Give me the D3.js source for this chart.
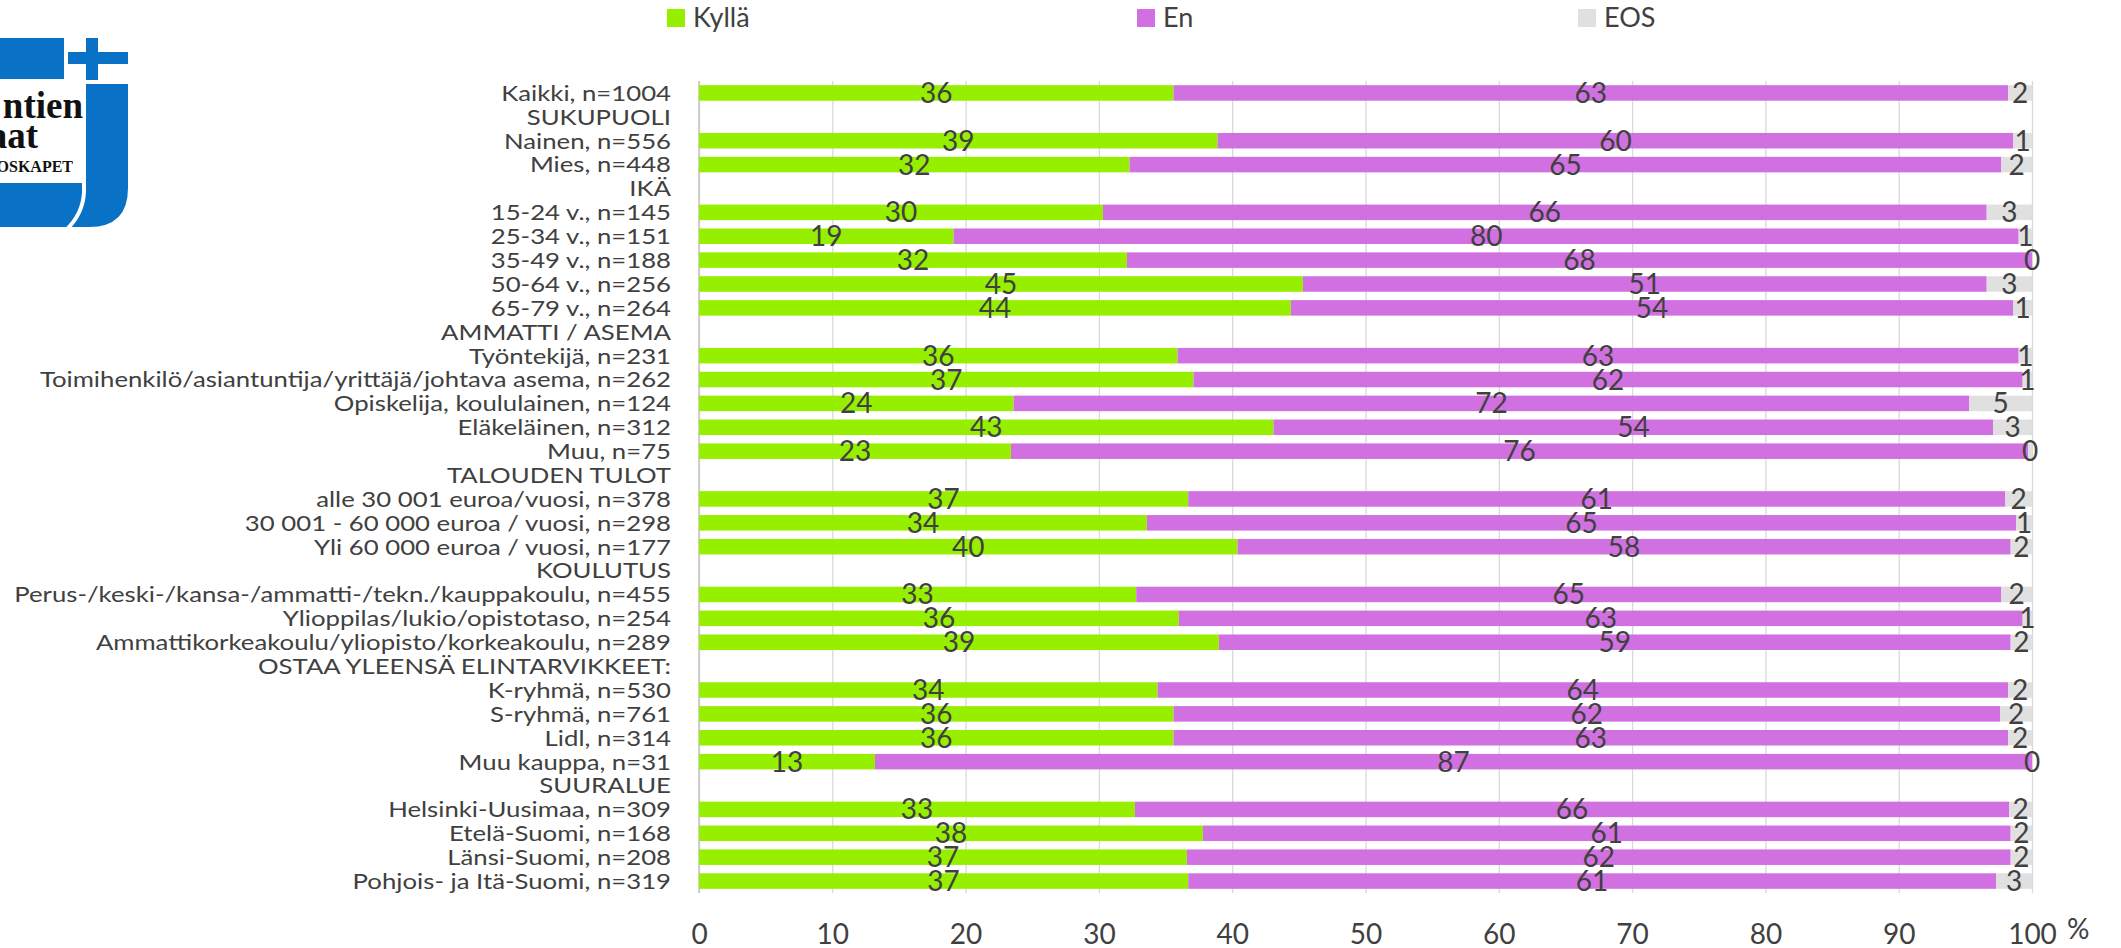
<!DOCTYPE html>
<html>
<head>
<meta charset="utf-8">
<script src="https://cdn.jsdelivr.net/npm/d3@7"></script>
<style>
  html, body { margin: 0; padding: 0; background: #ffffff; }
  svg { display: block; }
  text { font-family: Lato, "Open Sans", sans-serif; fill: #404040; }
</style>
</head>
<body>
<svg id="chart" width="2121" height="948"></svg>
<script>
// Row labels (group headings have no bars)
const categories = [
  "Kaikki, n=1004",
  "SUKUPUOLI",
  "Nainen, n=556",
  "Mies, n=448",
  "IKÄ",
  "15-24 v., n=145",
  "25-34 v., n=151",
  "35-49 v., n=188",
  "50-64 v., n=256",
  "65-79 v., n=264",
  "AMMATTI / ASEMA",
  "Työntekijä, n=231",
  "Toimihenkilö/asiantuntija/yrittäjä/johtava asema, n=262",
  "Opiskelija, koululainen, n=124",
  "Eläkeläinen, n=312",
  "Muu, n=75",
  "TALOUDEN TULOT",
  "alle 30 001 euroa/vuosi, n=378",
  "30 001 - 60 000 euroa / vuosi, n=298",
  "Yli 60 000 euroa / vuosi, n=177",
  "KOULUTUS",
  "Perus-/keski-/kansa-/ammatti-/tekn./kauppakoulu, n=455",
  "Ylioppilas/lukio/opistotaso, n=254",
  "Ammattikorkeakoulu/yliopisto/korkeakoulu, n=289",
  "OSTAA YLEENSÄ ELINTARVIKKEET:",
  "K-ryhmä, n=530",
  "S-ryhmä, n=761",
  "Lidl, n=314",
  "Muu kauppa, n=31",
  "SUURALUE",
  "Helsinki-Uusimaa, n=309",
  "Etelä-Suomi, n=168",
  "Länsi-Suomi, n=208",
  "Pohjois- ja Itä-Suomi, n=319"
];

// Shares in percent; null marks a heading row
const kylla = [35.6, null, 38.9, 32.3, null, 30.3, 19.1, 32.1, 45.3, 44.4, null,
  35.9, 37.1, 23.6, 43.1, 23.4, null, 36.7, 33.6, 40.4, null, 32.8, 36.0, 39.0, null,
  34.4, 35.6, 35.6, 13.2, null, 32.7, 37.8, 36.6, 36.7];
const en = [62.6, null, 59.7, 65.4, null, 66.3, 79.9, 67.9, 51.3, 54.2, null,
  63.1, 62.2, 71.7, 54.0, 76.3, null, 61.3, 65.2, 58.0, null, 64.9, 63.3, 59.4, null,
  63.8, 62.0, 62.6, 86.8, null, 65.6, 60.6, 61.8, 60.6];
const eos = [1.8, null, 1.4, 2.3, null, 3.4, 1.0, 0.0, 3.4, 1.4, null,
  1.0, 0.7, 4.7, 2.9, 0.3, null, 2.0, 1.2, 1.6, null, 2.3, 0.7, 1.6, null,
  1.8, 2.4, 1.8, 0.0, null, 1.7, 1.6, 1.6, 2.7];

const seriesNames = ["Kyllä", "En", "EOS"];
const seriesColors = ["#97ef00", "#d170e1", "#e0e0e0"];
const xTicks = [0, 10, 20, 30, 40, 50, 60, 70, 80, 90, 100];
const xUnit = "%";

const svg = d3.select("#chart");
const W = 2121, H = 948;
const plot = { left: 699, right: 2032, top: 81, bottom: 893 };

const x = d3.scaleLinear().domain([0, 100]).range([plot.left, plot.right]);
const y = d3.scaleBand().domain(categories).range([plot.top, plot.bottom]).paddingInner(0.35).paddingOuter(0.175);

// Logo in the top-left corner (clipped by the page edge)
const logo = svg.append("g").attr("class", "logo");
const blue = "#0a72c6";
logo.append("rect").attr("x", -4).attr("y", 38).attr("width", 68).attr("height", 41).attr("fill", blue);
logo.append("rect").attr("x", 68).attr("y", 52).attr("width", 60).attr("height", 12).attr("fill", blue);
logo.append("rect").attr("x", 86).attr("y", 38).attr("width", 12).attr("height", 42).attr("fill", blue);
logo.append("path").attr("d", "M86,84 H128 V188 Q128,227 89,227 H-4 V183 H86 Z").attr("fill", blue);
logo.append("path").attr("d", "M84,183 V192 Q83,214 66,230").attr("fill", "none").attr("stroke", "#ffffff").attr("stroke-width", 4);
logo.append("text").attr("x", 83).attr("y", 118).attr("text-anchor", "end")
  .style("font-family", "'Liberation Serif', 'DejaVu Serif', serif").style("font-weight", "bold")
  .style("font-size", "37px").style("fill", "#111").text("ntien");
logo.append("text").attr("x", 38).attr("y", 148).attr("text-anchor", "end")
  .style("font-family", "'Liberation Serif', 'DejaVu Serif', serif").style("font-weight", "bold")
  .style("font-size", "37px").style("fill", "#111").text("aat");
logo.append("text").attr("x", 73).attr("y", 172).attr("text-anchor", "end")
  .style("font-family", "'Liberation Serif', 'DejaVu Serif', serif").style("font-weight", "bold")
  .style("font-size", "16px").style("fill", "#111").text("OSKAPET");

// Legend
const legendX = [667, 1137, 1578];
const legend = svg.append("g").attr("class", "legend");
seriesNames.forEach((name, i) => {
  legend.append("rect").attr("x", legendX[i]).attr("y", 9).attr("width", 18).attr("height", 18)
    .attr("fill", seriesColors[i]);
  legend.append("text").attr("x", legendX[i] + 26).attr("y", 27)
    .style("font-size", "27px").text(name);
});

// Vertical gridlines + bottom tick labels
const xAxis = d3.axisBottom(x).tickValues(xTicks).tickSize(-(plot.bottom - plot.top)).tickPadding(31);
const gx = svg.append("g").attr("transform", `translate(0,${plot.bottom})`).call(xAxis);
gx.select(".domain").remove();
gx.selectAll(".tick line").attr("stroke", "#d9d9d9").attr("stroke-width", 1.3);
gx.selectAll(".tick text").style("font-size", "28px").style("font-family", "Lato, sans-serif").attr("fill", "#404040");
svg.append("text").attr("x", x(100) + 35).attr("y", 939).style("font-size", "28px").text(xUnit);

// Left axis line
svg.append("line").attr("x1", plot.left).attr("x2", plot.left).attr("y1", plot.top).attr("y2", plot.bottom)
  .attr("stroke", "#bfbfbf").attr("stroke-width", 1.3);

// Stacked segments
const rows = categories.map((c, i) => ({ c, vals: [kylla[i], en[i], eos[i]] })).filter(r => r.vals[0] !== null);
const segs = [];
rows.forEach(r => {
  let acc = 0;
  r.vals.forEach((v, k) => {
    segs.push({ c: r.c, k, v, x0: acc, x1: acc + v });
    acc += v;
  });
});

svg.append("g").selectAll("rect").data(segs).join("rect")
  .attr("x", d => x(d.x0))
  .attr("y", d => y(d.c))
  .attr("width", d => Math.max(0, x(d.x1) - x(d.x0)))
  .attr("height", y.bandwidth())
  .attr("fill", d => seriesColors[d.k]);

// Value labels
const labelSize = 28;
svg.append("g").selectAll("text").data(segs).join("text")
  .attr("x", d => x((d.x0 + d.x1) / 2))
  .attr("y", d => y(d.c) + y.bandwidth() / 2 + labelSize * 0.358)
  .attr("text-anchor", "middle")
  .style("font-size", labelSize + "px")
  .text(d => Math.round(d.v));

// Category labels (condensed to fit the left margin)
const labelRight = 671;
const longestWidth = 657;
const gy = svg.append("g");
const cats = gy.selectAll("text").data(categories).join("text")
  .attr("text-anchor", "end")
  .style("font-size", "22px")
  .text(d => d);
let maxW = 0;
cats.each(function () { maxW = Math.max(maxW, this.getComputedTextLength()); });
const sx = longestWidth / maxW;
cats.attr("transform", d => `translate(${labelRight},${y(d) + y.bandwidth() / 2 + 22 * 0.358}) scale(${sx},1)`);
</script>
</body>
</html>
